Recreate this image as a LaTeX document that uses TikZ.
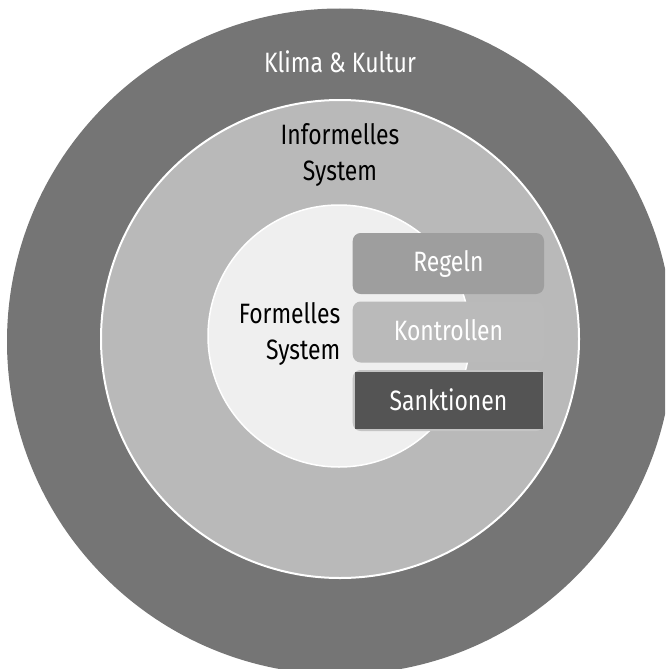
\documentclass[tikz,border=0pt]{standalone}
\usepackage{fontspec}
\setmainfont{Fira Sans}[FakeStretch=0.82]
\definecolor{outerc}{HTML}{757575}
\definecolor{midc}{HTML}{B9B9B9}
\definecolor{innerc}{HTML}{EFEFEF}
\definecolor{regc}{HTML}{9E9E9E}
\definecolor{konc}{HTML}{BABABA}
\definecolor{sankc}{HTML}{545454}
\definecolor{shadc}{HTML}{C4C4C4}
\tikzset{
  ring/.style={circle, inner sep=0pt, outer sep=0pt},
  lbl/.style={font=\fontsize{28}{36}\selectfont, inner sep=0pt, align=center},
  boxlbl/.style={font=\fontsize{28}{30}\selectfont, text=white, inner sep=0pt},
}
\begin{document}
\begin{tikzpicture}[x=1pt,y=-1pt]
\useasboundingbox (0,0) rectangle (665,669);
\clip (0,0) rectangle (665,669);
\node[ring, fill=outerc, minimum size=666pt] (outer) at (340,341.5) {};
\node[ring, fill=midc, draw=white, line width=2pt, minimum size=478pt] (mid) at (340,339) {};
\node[ring, fill=innerc, draw=white, line width=1.5pt, minimum size=262pt] (inner) at (339,336) {};
% boxes
\fill[regc, rounded corners=8pt] (352.7,233) rectangle (544,294);
\fill[konc, rounded corners=8pt] (352.7,301.5) rectangle (544,362.5);
\fill[shadc, rounded corners=8pt] (352.7,370) rectangle (544,431);
\fill[sankc] (355,372) rectangle (542.7,428.5);
\node[lbl, text=white] (klima) at (340,62) {Klima \& Kultur};
\node[lbl, text=black] (inf) at (340,155) {Informelles\\System};
\node[lbl, text=black, align=right, anchor=east] (form) at (340.5,334) {Formelles\\System};
\node[boxlbl] (regeln) at (448.5,263.5) {Regeln};
\node[boxlbl] (kontr) at (448.5,330) {Kontrollen};
\node[boxlbl] (sank) at (448.5,399.5) {Sanktionen};
\end{tikzpicture}
\end{document}
